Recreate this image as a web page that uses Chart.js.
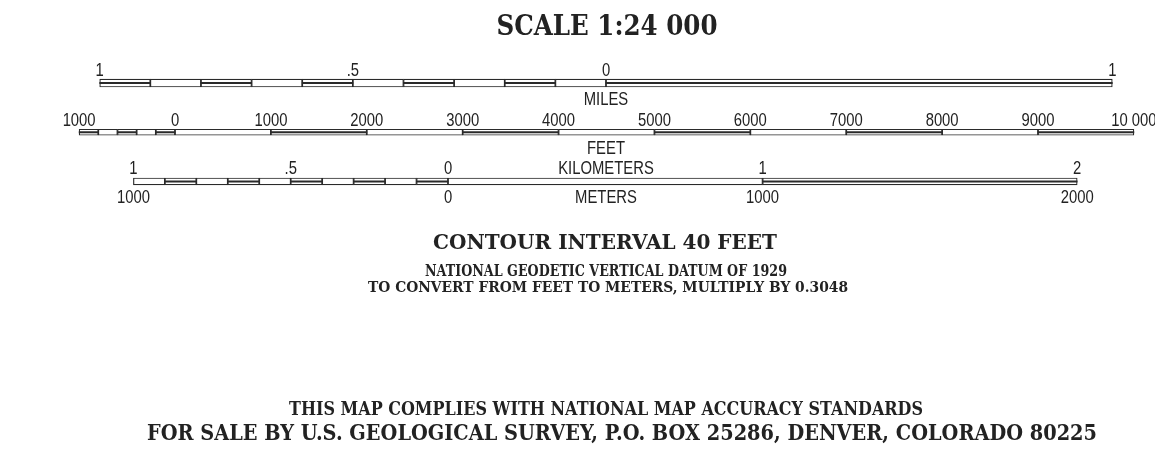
<!DOCTYPE html>
<html>
<head>
<meta charset="utf-8">
<script src="https://cdn.jsdelivr.net/npm/chart.js@4.4.0/dist/chart.umd.min.js"></script>
<style>
    html, body { margin: 0; background: #fff; }
    #wrap { width: 1155px; height: 460px; }
</style>
</head>
<body>
<div id="wrap"><canvas id="scaleChart" width="1155" height="460"></canvas></div>
<script>
const rows = ['mi', 'ft', 'km'];

// segment edges of each bar, in the bar's own unit
const mileEdges = [-1, -0.9, -0.8, -0.7, -0.6, -0.5, -0.4, -0.3, -0.2, -0.1, 0, 1];
const mileDouble = [1, 0, 1, 0, 1, 0, 1, 0, 1, 0, 1];
const feetEdges = [-1000, -800, -600, -400, -200, 0, 1000, 2000, 3000, 4000, 5000, 6000, 7000, 8000, 9000, 10000];
const feetDouble = [1, 0, 1, 0, 1, 0, 1, 0, 1, 0, 1, 0, 1, 0, 1];
const kmEdges = [-1, -0.9, -0.8, -0.7, -0.6, -0.5, -0.4, -0.3, -0.2, -0.1, 0, 1, 2];
const kmDouble = [0, 1, 0, 1, 0, 1, 0, 1, 0, 1, 0, 1];

// tick labels
const mileTicks = [-1, -0.5, 0, 1];
const mileLabels = ['1', '.5', '0', '1'];
const feetTicks = [-1000, 0, 1000, 2000, 3000, 4000, 5000, 6000, 7000, 8000, 9000, 10000];
const feetLabels = ['1000', '0', '1000', '2000', '3000', '4000', '5000', '6000', '7000', '8000', '9000', '10 000'];
const kmTicks = [-1, -0.5, 0, 1, 2];
const kmLabels = ['1', '.5', '0', '1', '2'];
const meterTicks = [-1, 0, 1, 2];
const meterLabels = ['1000', '0', '1000', '2000'];

const titleText = 'SCALE 1:24 000';
const notes = [
    'CONTOUR INTERVAL 40 FEET',
    'NATIONAL GEODETIC VERTICAL DATUM OF 1929',
    'TO CONVERT FROM FEET TO METERS, MULTIPLY BY 0.3048'
];
const footer = [
    'THIS MAP COMPLIES WITH NATIONAL MAP ACCURACY STANDARDS',
    'FOR SALE BY U.S. GEOLOGICAL SURVEY, P.O. BOX 25286, DENVER, COLORADO 80225'
];

// layout
const W = 1155;
const pxPerMile = 506.3;
const ink = '#222';
const barInk = '#2a2a2a';

function span(zeroPx, pxPerUnit) {
    return { min: -zeroPx / pxPerUnit, max: (W - zeroPx) / pxPerUnit };
}

function segments(edges, row) {
    return edges.slice(0, -1).map((e, i) => ({ x: [e, edges[i + 1]], y: row }));
}

function doubles(edges, flags, row) {
    return segments(edges, row).filter((s, i) => flags[i]);
}

function outline(data, axis, thick) {
    return {
        data, xAxisID: axis, grouped: false, order: 2,
        backgroundColor: '#fff', borderColor: barInk, borderWidth: 1.2,
        borderSkipped: false, barThickness: thick
    };
}

function midLine(data, axis) {
    return {
        data, xAxisID: axis, grouped: false, order: 1,
        backgroundColor: barInk, borderWidth: 0, barThickness: 1.5
    };
}

const condensed = '"Liberation Sans", Arial, sans-serif';
const serif = '"DejaVu Serif", "Liberation Serif", serif';

function fitText(ctx, text, cx, base, font, width) {
    ctx.save();
    ctx.font = font;
    const w = ctx.measureText(text).width;
    ctx.translate(cx, base);
    ctx.scale(width / w, 1);
    ctx.textAlign = 'center';
    ctx.textBaseline = 'alphabetic';
    ctx.fillText(text, 0, 0);
    ctx.restore();
}

function squeezed(ctx, text, cx, base) {
    ctx.save();
    ctx.translate(cx, base);
    ctx.scale(0.78, 1);
    ctx.font = '19px ' + condensed;
    ctx.textAlign = 'center';
    ctx.textBaseline = 'alphabetic';
    ctx.fillText(text, 0, 0);
    ctx.restore();
}

const labelPlugin = {
    id: 'scaleLabels',
    afterDatasetsDraw(chart) {
        const ctx = chart.ctx;
        const s = chart.scales;
        ctx.fillStyle = ink;

        const groups = [
            [s.xMi, mileTicks, mileLabels, 76],
            [s.xFt, feetTicks, feetLabels, 126],
            [s.xKm, kmTicks, kmLabels, 174],
            [s.xKm, meterTicks, meterLabels, 203]
        ];
        groups.forEach(([scale, ticks, labels, base]) => {
            ticks.forEach((v, i) => squeezed(ctx, labels[i], scale.getPixelForValue(v), base));
        });

        const mid = s.xMi.getPixelForValue(0);
        squeezed(ctx, 'MILES', mid, 105);
        squeezed(ctx, 'FEET', mid, 154);
        squeezed(ctx, 'KILOMETERS', mid, 174);
        squeezed(ctx, 'METERS', mid, 203);

        fitText(ctx, titleText, 607, 35, 'bold 28px ' + serif, 221);
        fitText(ctx, notes[0], 605, 249, 'bold 20px ' + serif, 344);
        fitText(ctx, notes[1], 606, 276, 'bold 17px ' + serif, 362);
        fitText(ctx, notes[2], 608, 292, 'bold 14px ' + serif, 480);
        fitText(ctx, footer[0], 606, 415, 'bold 19px ' + serif, 634);
        fitText(ctx, footer[1], 622, 440, 'bold 22px ' + serif, 950);
    }
};

const ctx = document.getElementById('scaleChart').getContext('2d');
const scaleChart = new Chart(ctx, {
    type: 'bar',
    data: {
        datasets: [
            outline(segments(mileEdges, 'mi'), 'xMi', 8),
            midLine(doubles(mileEdges, mileDouble, 'mi'), 'xMi'),
            outline(segments(feetEdges, 'ft'), 'xFt', 6),
            midLine(doubles(feetEdges, feetDouble, 'ft'), 'xFt'),
            outline(segments(kmEdges, 'km'), 'xKm', 7),
            midLine(doubles(kmEdges, kmDouble, 'km'), 'xKm')
        ]
    },
    options: {
        responsive: false,
        animation: false,
        indexAxis: 'y',
        layout: { padding: { top: 58.4, bottom: 460 - 206.1, left: 0, right: 0 } },
        scales: {
            y: { type: 'category', labels: rows, offset: true, display: false },
            xMi: { type: 'linear', axis: 'x', display: false, ...span(606, pxPerMile) },
            xFt: { type: 'linear', axis: 'x', display: false, ...span(175, pxPerMile / 5280) },
            xKm: { type: 'linear', axis: 'x', display: false, ...span(448, pxPerMile / 1.609344) }
        },
        plugins: {
            legend: { display: false },
            tooltip: { enabled: false }
        }
    },
    plugins: [labelPlugin]
});
</script>
</body>
</html>
